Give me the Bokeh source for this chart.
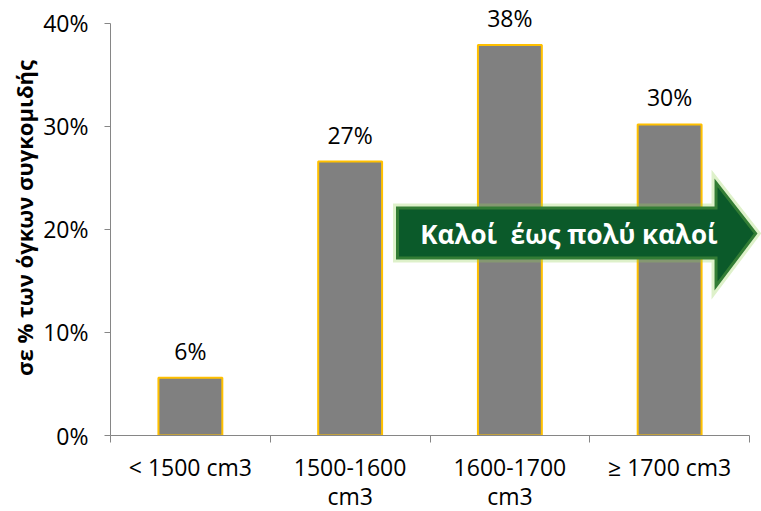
from bokeh.plotting import figure
from bokeh.models import (Range1d, FixedTicker, NumeralTickFormatter, ColumnDataSource,
                          LabelSet, PolyAnnotation, Label)
from bokeh.core.properties import value
from bokeh.embed import file_html
from bokeh.resources import INLINE

# Harvest volume share by engine-displacement class
categories = ["< 1500 cm3", "1500-1600\ncm3", "1600-1700\ncm3", "≥ 1700 cm3"]
shares = [0.056, 0.266, 0.379, 0.302]
y_ticks = [0.0, 0.1, 0.2, 0.3, 0.4]
y_title = "σε % των όγκων συγκομιδής"
arrow_text = "Καλοί\u00a0 έως πολύ καλοί"

FONT = "Open Sans"
AXIS_GREY = "#868686"

centers = [i + 0.5 for i in range(len(categories))]
bounds = [float(i) for i in range(len(categories) + 1)]
value_labels = [f"{round(v * 100):.0f}%" for v in shares]

src = ColumnDataSource(dict(x=centers, top=shares, label=value_labels))

p = figure(frame_width=651, frame_height=435,
           x_range=Range1d(0, 4.075), y_range=Range1d(0, 0.4223),
           output_backend="svg", toolbar_location=None,
           min_border_left=110, min_border_right=0, min_border_top=0,
           min_border_bottom=70)
p.outline_line_color = None
p.grid.grid_line_color = None
p.background_fill_color = "white"
p.border_fill_color = "white"

p.vbar(x="x", top="top", width=0.4, source=src,
       fill_color="#808080", line_color="#FFC000", line_width=2)

labels = LabelSet(x="x", y="top", text="label", source=src,
                  text_align="center", text_baseline="alphabetic", y_offset=18,
                  text_font=value(FONT), text_font_size="23px", text_color="black")
p.add_layout(labels)

# x axis: category names centred, separator ticks at the boundaries
xa = p.xaxis[0]
xa.ticker = FixedTicker(ticks=centers, minor_ticks=bounds)
xa.major_label_overrides = {c: name for c, name in zip(centers, categories)}
xa.bounds = (0, len(categories))
xa.axis_line_color = AXIS_GREY
xa.major_tick_line_color = None
xa.major_tick_out = 0
xa.major_tick_in = 0
xa.minor_tick_line_color = AXIS_GREY
xa.minor_tick_out = 7
xa.minor_tick_in = 0
xa.major_label_standoff = 8
xa.major_label_text_font = FONT
xa.major_label_text_font_size = "23px"
xa.major_label_text_line_height = 0.92
xa.major_label_text_color = "black"

# y axis in percent
ya = p.yaxis[0]
ya.ticker = FixedTicker(ticks=y_ticks)
ya.formatter = NumeralTickFormatter(format="0%")
ya.bounds = (0, 0.4)
ya.axis_line_color = AXIS_GREY
ya.major_tick_line_color = AXIS_GREY
ya.major_tick_out = 6
ya.major_tick_in = 0
ya.minor_tick_line_color = None
ya.major_label_standoff = 16
ya.major_label_text_font = FONT
ya.major_label_text_font_size = "23px"
ya.major_label_text_color = "black"
ya.axis_label = y_title
ya.axis_label_text_font = FONT
ya.axis_label_text_font_style = "bold"
ya.axis_label_text_font_size = "22px"
ya.axis_label_text_color = "black"
ya.axis_label_standoff = 1

# "good to very good" arrow spanning the larger classes
body_left, head_base, tip = 1.787, 3.781, 4.050
body_top, body_bottom = 0.2223, 0.1709
head_top, head_bottom, tip_y = 0.2495, 0.1408, 0.1961
arrow = PolyAnnotation(
    xs=[body_left, head_base, head_base, tip, head_base, head_base, body_left],
    ys=[body_top, body_top, head_top, tip_y, head_bottom, body_bottom, body_bottom],
    fill_color="#0B5A2A", fill_alpha=1.0,
    line_color="#92D050", line_width=6, line_join="miter")
p.add_layout(arrow)

p.add_layout(Label(x=2.87, y=tip_y, text=arrow_text, text_align="center",
                   text_baseline="middle", text_font=FONT, text_font_style="bold",
                   text_font_size="26px", text_color="white"))

open("out.html", "w").write(file_html(p, INLINE))
